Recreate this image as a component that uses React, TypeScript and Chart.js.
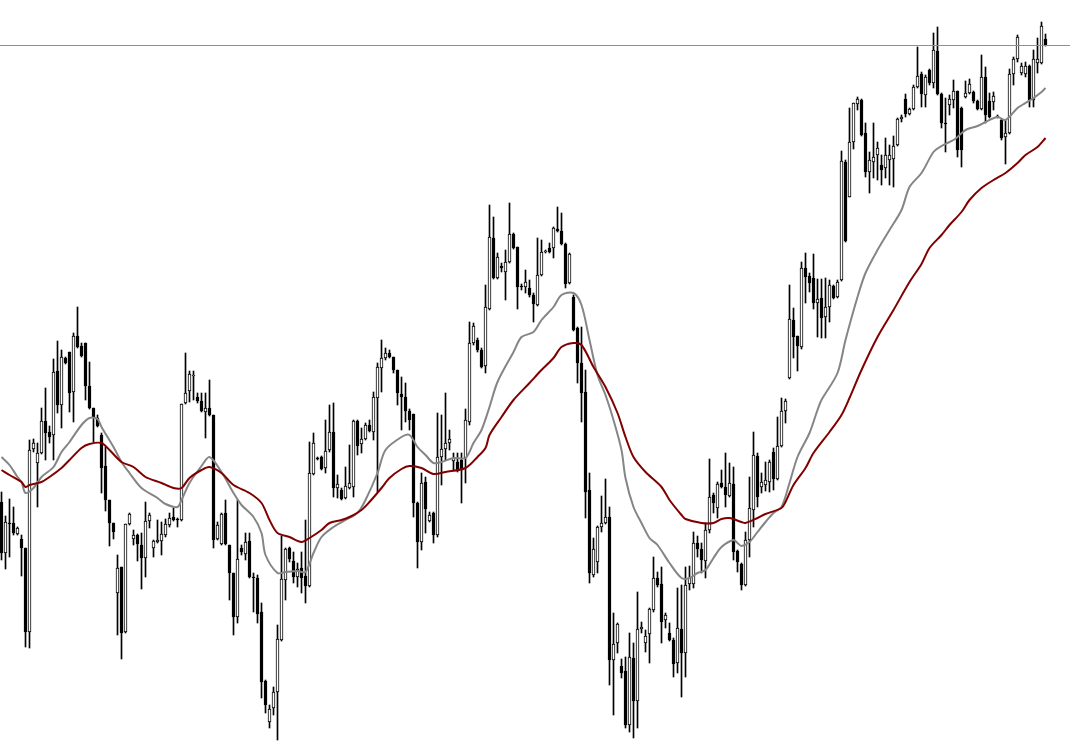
import { useEffect, useRef } from "react";
import { Chart, registerables } from "chart.js";

Chart.register(...registerables);

const opens = [
  298, 247, 277, 277, 266, 261, 252, 168, 351, 337,
  347, 379, 368, 365, 429, 395, 442, 448, 408, 464,
  454, 457, 414, 392, 382, 365, 334, 300, 277, 207,
  233, 168, 276, 261, 265, 255, 242, 279, 252, 258,
  259, 265, 275, 283, 281, 280, 397, 409, 424, 403,
  399, 388, 392, 385, 261, 256, 287, 255, 227, 183,
  252, 246, 259, 223, 222, 188, 119, 78, 92, 108,
  160, 220, 252, 239, 223, 232, 224, 214, 326, 342,
  343, 332, 350, 368, 312, 310, 302, 312, 313, 379,
  356, 361, 375, 368, 402, 432, 442, 447, 443, 430,
  406, 403, 389, 386, 297, 258, 318, 279, 287, 265,
  343, 351, 357, 339, 338, 340, 342, 378, 457, 460,
  450, 434, 491, 562, 522, 534, 528, 538, 566, 553,
  514, 513, 512, 505, 495, 525, 548, 552, 552, 571,
  569, 556, 517, 503, 472, 437, 408, 310, 225, 238,
  273, 277, 283, 140, 157, 134, 129, 75, 142, 99,
  171, 157, 166, 190, 222, 216, 180, 167, 160, 137,
  171, 147, 216, 216, 257, 251, 239, 270, 305, 292,
  317, 313, 304, 316, 249, 236, 215, 260, 290, 344,
  313, 315, 318, 348, 321, 354, 389, 422, 480, 464,
  453, 532, 524, 522, 497, 502, 483, 493, 514, 503,
  520, 638, 603, 658, 696, 700, 667, 628, 638, 645,
  635, 632, 640, 641, 655, 681, 701, 686, 691, 713,
  726, 705, 730, 717, 749, 706, 677, 695, 700, 709,
  692, 703, 707, 708, 699, 691, 723, 699, 698, 684,
  680, 663, 667, 726, 741, 727, 726, 734, 700, 737,
  737, 761,
];

const highs = [
  308, 284, 301, 293, 273, 265, 252, 360, 361, 357,
  392, 412, 374, 441, 459, 450, 443, 448, 467, 493,
  457, 457, 438, 392, 385, 367, 353, 300, 277, 245,
  233, 276, 287, 270, 266, 267, 298, 287, 260, 280,
  278, 281, 287, 292, 282, 396, 447, 429, 429, 407,
  407, 407, 420, 385, 278, 287, 300, 255, 227, 300,
  255, 267, 267, 227, 225, 197, 120, 95, 113, 175,
  264, 252, 253, 248, 237, 248, 280, 358, 367, 343,
  344, 380, 395, 397, 325, 312, 333, 355, 380, 380,
  372, 377, 380, 408, 437, 460, 452, 450, 443, 430,
  423, 417, 391, 386, 298, 327, 323, 288, 288, 387,
  385, 407, 370, 347, 347, 347, 391, 478, 477, 462,
  452, 515, 595, 583, 547, 537, 550, 597, 567, 553,
  516, 530, 520, 507, 562, 560, 550, 557, 573, 593,
  587, 557, 547, 505, 473, 473, 430, 327, 262, 274,
  304, 321, 293, 187, 177, 141, 143, 167, 157, 208,
  178, 170, 192, 243, 228, 233, 187, 177, 162, 212,
  215, 233, 234, 268, 264, 257, 277, 341, 307, 318,
  330, 347, 337, 333, 250, 237, 268, 323, 368, 347,
  327, 338, 340, 352, 383, 402, 401, 515, 492, 464,
  538, 547, 527, 546, 521, 521, 522, 520, 515, 520,
  649, 640, 692, 697, 703, 701, 677, 648, 677, 658,
  645, 662, 655, 664, 682, 685, 706, 692, 715, 753,
  728, 725, 731, 767, 773, 707, 702, 705, 720, 709,
  693, 719, 721, 709, 700, 745, 733, 707, 708, 685,
  681, 680, 731, 743, 765, 737, 738, 735, 750, 762,
  778, 766,
];

const lows = [
  240, 231, 243, 265, 265, 224, 153, 152, 348, 293,
  346, 340, 357, 340, 387, 372, 436, 388, 378, 452,
  443, 400, 391, 358, 373, 307, 289, 254, 261, 165,
  141, 167, 275, 255, 239, 211, 223, 272, 243, 257,
  245, 263, 273, 279, 273, 279, 396, 398, 400, 397,
  388, 362, 384, 252, 260, 255, 255, 200, 165, 177,
  245, 240, 222, 188, 177, 102, 87, 72, 85, 60,
  159, 200, 238, 217, 213, 207, 197, 213, 325, 340,
  330, 327, 348, 303, 302, 300, 301, 311, 303, 345,
  347, 360, 368, 360, 308, 408, 440, 442, 427, 395,
  370, 378, 370, 283, 232, 250, 267, 278, 257, 263,
  315, 340, 350, 330, 328, 297, 317, 375, 455, 448,
  432, 427, 490, 521, 521, 528, 500, 537, 551, 491,
  510, 507, 503, 478, 494, 524, 547, 547, 542, 568,
  555, 512, 516, 469, 417, 378, 282, 217, 223, 227,
  268, 276, 115, 85, 147, 122, 72, 68, 62, 72,
  167, 148, 137, 188, 213, 157, 172, 159, 123, 127,
  103, 123, 210, 212, 243, 227, 222, 267, 287, 282,
  312, 293, 303, 240, 228, 210, 214, 243, 273, 293,
  307, 309, 308, 310, 320, 353, 377, 421, 442, 429,
  451, 497, 508, 491, 463, 462, 462, 478, 501, 502,
  519, 558, 603, 651, 690, 664, 623, 607, 622, 620,
  615, 622, 615, 613, 654, 678, 683, 685, 690, 712,
  693, 693, 715, 712, 705, 672, 648, 685, 692, 643,
  633, 702, 706, 697, 690, 690, 677, 682, 690, 682,
  660, 636, 666, 715, 738, 725, 723, 693, 693, 727,
  736, 754,
];

const closes = [
  247, 278, 276, 267, 272, 252, 168, 350, 357, 347,
  379, 367, 363, 428, 395, 443, 437, 407, 464, 453,
  444, 414, 392, 383, 374, 332, 300, 277, 268, 232,
  167, 276, 286, 265, 256, 242, 279, 285, 259, 260,
  266, 276, 282, 280, 280, 396, 407, 426, 425, 399,
  389, 392, 385, 260, 275, 286, 256, 227, 183, 241,
  248, 258, 223, 222, 186, 118, 95, 91, 108, 161,
  221, 251, 241, 223, 231, 222, 214, 327, 357, 341,
  331, 349, 368, 312, 316, 301, 314, 317, 379, 354,
  361, 375, 369, 403, 433, 442, 447, 443, 430, 407,
  403, 389, 380, 297, 258, 317, 291, 285, 265, 343,
  351, 357, 361, 342, 330, 330, 380, 457, 474, 450,
  433, 493, 563, 522, 543, 532, 538, 566, 552, 513,
  513, 518, 505, 496, 525, 548, 549, 548, 572, 569,
  556, 516, 546, 470, 437, 407, 308, 227, 251, 273,
  277, 283, 140, 156, 176, 127, 75, 143, 99, 171,
  173, 164, 191, 222, 215, 178, 185, 160, 136, 172,
  147, 215, 222, 257, 251, 240, 270, 303, 297, 316,
  313, 305, 317, 248, 238, 215, 260, 292, 345, 303,
  318, 320, 338, 321, 354, 389, 399, 481, 463, 454,
  532, 523, 517, 497, 501, 482, 493, 515, 502, 518,
  639, 559, 658, 697, 701, 665, 628, 640, 643, 652,
  630, 645, 645, 654, 681, 683, 686, 691, 713, 724,
  706, 723, 717, 750, 706, 677, 676, 701, 709, 650,
  650, 707, 716, 699, 691, 723, 685, 683, 704, 683,
  662, 667, 726, 741, 763, 734, 734, 700, 741, 741,
  774, 755,
];

// fast moving average, read as [candle index, value]
const fastMA: [number, number][] = [
  [0, 343], [2, 335], [4, 323], [5, 318], [6, 307], [8, 312], [10, 323], [13, 333],
  [15, 348], [17, 358], [20, 375], [22, 382], [24, 381], [25, 373], [28, 353], [30, 338],
  [32, 327], [35, 312], [39, 302], [41, 296], [44, 293], [45, 300], [47, 317], [50, 334],
  [52, 343], [55, 328], [58, 307], [60, 295], [63, 283], [65, 267], [66, 245], [69, 227],
  [71, 228], [74, 229], [76, 228], [78, 247], [80, 263], [83, 273], [86, 280], [89, 287],
  [91, 300], [94, 327], [96, 350], [100, 363], [102, 365], [104, 353], [106, 345], [108, 337],
  [110, 338], [113, 342], [116, 342], [118, 357], [120, 370], [122, 393], [124, 418], [128, 448],
  [130, 463], [133, 468], [135, 480], [138, 493], [140, 505], [143, 507], [145, 495], [147, 460],
  [149, 425], [151, 405], [153, 380], [155, 350], [156, 322], [158, 293], [160, 277], [162, 262],
  [164, 255], [167, 237], [170, 222], [172, 222], [174, 227], [176, 230], [178, 242], [180, 253],
  [183, 260], [184, 257], [185, 254], [187, 258], [189, 268], [191, 278], [193, 287], [195, 293],
  [197, 317], [199, 343], [202, 367], [204, 390], [205, 400], [209, 427], [211, 460], [214, 503],
  [216, 527], [219, 550], [222, 570], [225, 590], [227, 613], [230, 627], [233, 648], [235, 654],
  [238, 660], [239, 663], [241, 670], [244, 674], [246, 678], [249, 683], [251, 680], [254, 692],
  [256, 697], [258, 702], [260, 708], [261, 712],
];

// slow moving average, read as [candle index, value]
const slowMA: [number, number][] = [
  [0, 330], [2, 325], [5, 318], [6, 313], [7, 315], [10, 318], [12, 323], [15, 332],
  [17, 340], [20, 352], [22, 356], [25, 357], [27, 350], [30, 338], [33, 333], [36, 323],
  [40, 317], [43, 312], [45, 312], [47, 322], [50, 330], [52, 333], [55, 327], [58, 315],
  [62, 307], [65, 297], [67, 280], [69, 267], [72, 263], [75, 258], [77, 262], [80, 270],
  [82, 277], [85, 280], [87, 283], [90, 290], [92, 298], [95, 312], [97, 322], [100, 331],
  [102, 334], [105, 332], [108, 326], [111, 328], [116, 332], [119, 343], [121, 352], [122, 365],
  [125, 383], [128, 400], [132, 417], [135, 430], [138, 442], [140, 453], [143, 457], [145, 455],
  [148, 433], [151, 413], [154, 387], [156, 363], [158, 343], [161, 328], [165, 313], [167, 300],
  [170, 285], [171, 281], [175, 277], [178, 277], [180, 281], [182, 282], [185, 278], [186, 277],
  [189, 282], [191, 286], [195, 292], [196, 298], [198, 315], [201, 332], [203, 347], [207, 368],
  [210, 385], [212, 402], [215, 430], [219, 463], [223, 490], [227, 518], [230, 536], [232, 552],
  [235, 565], [237, 575], [240, 588], [242, 600], [245, 612], [248, 620], [251, 627], [254, 637],
  [256, 645], [259, 653], [261, 662],
];

const levelPrice = 754.5;

export default function App() {
  const ref = useRef<HTMLCanvasElement>(null);

  useEffect(() => {
    if (!ref.current) return;
    const idx = opens.map((_, i) => i);
    const chart = new Chart(ref.current, {
      type: "bar",
      data: {
        datasets: [
          {
            type: "line",
            data: slowMA.map(([x, y]) => ({ x, y })),
            borderColor: "#800000",
            borderWidth: 2,
            pointRadius: 0,
            tension: 0.3,
            order: 0,
          } as any,
          {
            type: "line",
            data: fastMA.map(([x, y]) => ({ x, y })),
            borderColor: "#858585",
            borderWidth: 2,
            pointRadius: 0,
            tension: 0.3,
            order: 1,
          } as any,
          {
            type: "line",
            data: [
              { x: -2, y: levelPrice },
              { x: 270, y: levelPrice },
            ],
            borderColor: "#8a9096",
            borderWidth: 1,
            pointRadius: 0,
            order: 2,
          } as any,
          {
            type: "bar",
            data: idx.map((i) => ({ x: i, y: [opens[i], closes[i]] })),
            backgroundColor: idx.map((i) => (closes[i] >= opens[i] ? "#ffffff" : "#000000")),
            borderColor: "#000000",
            borderWidth: 1,
            borderSkipped: false,
            barThickness: 3,
            grouped: false,
            order: 3,
          } as any,
          {
            type: "bar",
            data: idx.map((i) => ({ x: i, y: [lows[i], highs[i]] })),
            backgroundColor: "#000000",
            borderWidth: 0,
            barThickness: 1,
            grouped: false,
            order: 4,
          } as any,
        ],
      },
      options: {
        animation: false,
        responsive: false,
        maintainAspectRatio: false,
        events: [],
        layout: { padding: 0 },
        plugins: {
          legend: { display: false },
          tooltip: { enabled: false },
        },
        scales: {
          x: {
            type: "linear",
            min: -0.375,
            max: 267.125,
            offset: false,
            display: false,
          },
          y: {
            type: "linear",
            min: 48,
            max: 800,
            display: false,
          },
        },
      } as any,
    });
    return () => chart.destroy();
  }, []);

  return (
    <div
      style={{
        position: "fixed",
        left: 0,
        top: 0,
        width: 1070,
        height: 752,
        background: "#ffffff",
      }}
    >
      <canvas
        ref={ref}
        width={1070}
        height={752}
        style={{ display: "block", width: 1070, height: 752 }}
      />
    </div>
  );
}
